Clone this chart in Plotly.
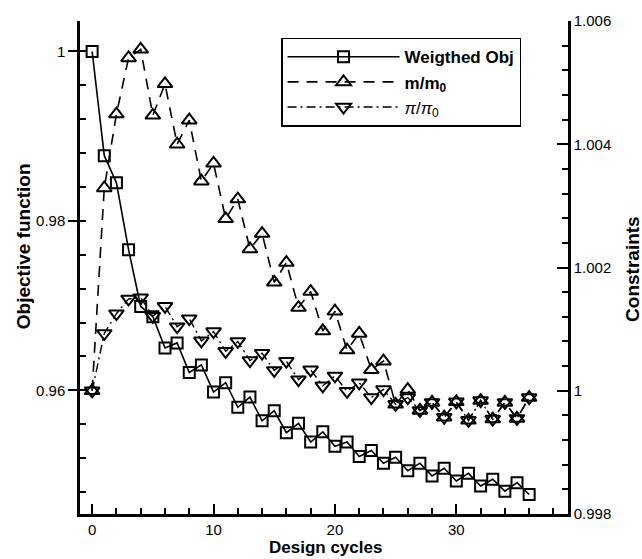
import plotly.graph_objects as go

cycles = list(range(37))

weighted_obj = [1.0, 0.9877, 0.9845, 0.9766, 0.9699, 0.9687, 0.9650, 0.9656, 0.9621, 0.9630,
                0.9598, 0.9609, 0.9580, 0.9592, 0.9564, 0.9576, 0.9550, 0.9561, 0.9539, 0.9551,
                0.9534, 0.9539, 0.9522, 0.9529, 0.9514, 0.9521, 0.9505, 0.9514, 0.9499, 0.9508,
                0.9493, 0.9502, 0.9487, 0.9495, 0.9481, 0.9491, 0.9477]

m_ratio = [1.0, 1.00329, 1.00449, 1.00540, 1.00554, 1.00447, 1.00498, 1.00400, 1.00439, 1.00340,
           1.00369, 1.00279, 1.00311, 1.00230, 1.00255, 1.00176, 1.00208, 1.00135, 1.00161, 1.00097,
           1.00129, 1.00066, 1.00093, 1.00034, 1.00048, 0.99978, 1.00002, 0.99968, 0.99981, 0.99957,
           0.99982, 0.99952, 0.99984, 0.99954, 0.99981, 0.99955, 0.99989]

pi_ratio = [1.0, 1.00093, 1.00125, 1.00149, 1.00151, 1.00121, 1.00137, 1.00104, 1.00117, 1.00081,
            1.00096, 1.00064, 1.00080, 1.00049, 1.00061, 1.00033, 1.00048, 1.00018, 1.00034, 1.00008,
            1.00024, 0.99999, 1.00013, 0.99989, 1.00002, 0.99978, 0.99989, 0.99968, 0.99981, 0.99957,
            0.99982, 0.99952, 0.99984, 0.99954, 0.99981, 0.99955, 0.99989]

left_ticks = [0.96, 0.98, 1.0]
left_labels = ["0.96", "0.98", "1"]
right_ticks = [0.998, 1.0, 1.002, 1.004, 1.006]
right_labels = ["0.998", "1", "1.002", "1.004", "1.006"]
x_ticks = [0, 10, 20, 30]

FONT = "Liberation Sans, Arial, Helvetica, sans-serif"

fig = go.Figure()
fig.add_trace(go.Scatter(
    x=cycles, y=weighted_obj, name="Weigthed Obj", mode="lines+markers",
    line=dict(color="black", width=1.6),
    marker=dict(symbol="square-open", size=11, color="black", line=dict(width=2, color="black")),
    yaxis="y"))
fig.add_trace(go.Scatter(
    x=cycles, y=m_ratio, name="m/m<sub>0</sub>", mode="lines+markers",
    line=dict(color="black", width=1.6, dash="11px,8px"),
    marker=dict(symbol="triangle-up-open", size=13, color="black", line=dict(width=2, color="black")),
    yaxis="y2"))
fig.add_trace(go.Scatter(
    x=cycles, y=pi_ratio, name="<span style='font-weight:normal'><i>π</i>/<i>π</i><sub>0</sub></span>",
    mode="lines+markers",
    line=dict(color="black", width=1.4, dash="9px,4px,2px,4px"),
    marker=dict(symbol="triangle-down-open", size=13, color="black", line=dict(width=2, color="black")),
    yaxis="y2"))

axis_common = dict(showgrid=False, zeroline=False, showline=True, linecolor="black", linewidth=2.5,
                   tickcolor="black", tickfont=dict(family=FONT, size=15, color="black"))

fig.update_layout(
    width=642, height=559,
    margin=dict(l=80, r=74, t=13, b=45),
    paper_bgcolor="white", plot_bgcolor="white",
    font=dict(family=FONT, color="black"),
    xaxis=dict(range=[-1, 39.2], tickvals=x_ticks, ticks="inside", ticklen=10, tickwidth=2,
               minor=dict(dtick=2, tick0=0, ticks="inside", ticklen=6, tickwidth=1.5, tickcolor="black"),
               **axis_common),
    yaxis=dict(range=[0.9454, 1.0036], tickvals=left_ticks, ticktext=left_labels,
               ticks="outside", ticklen=9, tickwidth=2,
               minor=dict(dtick=0.004, tick0=0.96, ticks="inside", ticklen=6, tickwidth=1.5, tickcolor="black"),
               **axis_common),
    yaxis2=dict(range=[0.998, 1.006], overlaying="y", side="right", anchor="x",
                tickvals=right_ticks, ticktext=right_labels,
                ticks="inside", ticklen=11, tickwidth=2,
                minor=dict(dtick=0.0004, tick0=0.998, ticks="inside", ticklen=6, tickwidth=1.5, tickcolor="black"),
                **axis_common),
    legend=dict(x=0.412, y=0.966, xanchor="left", yanchor="top",
                bgcolor="white", bordercolor="black", borderwidth=1.5,
                font=dict(family=FONT, size=17, color="black", weight="bold"),
                itemwidth=112, tracegroupgap=0),
    showlegend=True,
    annotations=[
        dict(text="<b>Design cycles</b>", x=0.504, y=-0.067, xref="paper", yref="paper",
             showarrow=False, font=dict(family=FONT, size=17, color="black"),
             xanchor="center", yanchor="middle"),
        dict(text="<b>Objective function</b>", x=-0.117, y=0.543, xref="paper", yref="paper",
             showarrow=False, textangle=-90, font=dict(family=FONT, size=19, color="black"),
             xanchor="center", yanchor="middle"),
        dict(text="<b>Constraints</b>", x=1.133, y=0.497, xref="paper", yref="paper",
             showarrow=False, textangle=-90, font=dict(family=FONT, size=19, color="black"),
             xanchor="center", yanchor="middle"),
    ],
)

fig.write_html("out.html")
